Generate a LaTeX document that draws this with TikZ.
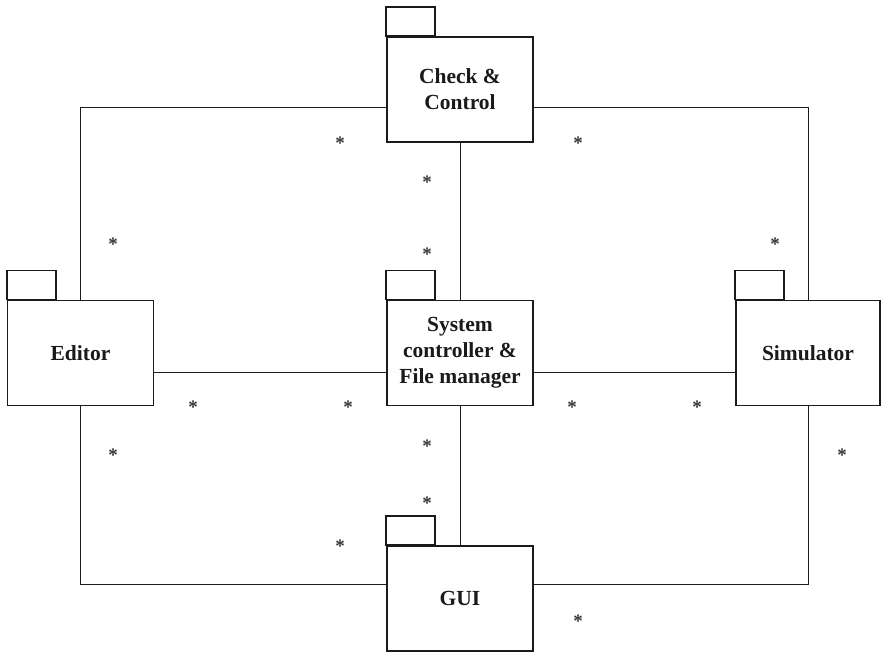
\documentclass[tikz,border=0pt]{standalone}
\usepackage{fontspec}
\setmainfont{Liberation Serif}
\usetikzlibrary{calc, positioning}
\definecolor{cbk}{HTML}{1A1A1A}
\definecolor{cstar}{HTML}{333333}

\begin{document}
\begin{tikzpicture}[x=1pt, y=-1pt]
    \useasboundingbox (0,0) rectangle (881,652);
    \begin{scope}[every node/.style={rectangle, draw=cbk, line width=1.6pt, fill=white, minimum width=146pt, minimum height=105pt, align=center, inner sep=0pt, font=\fontsize{21.5}{26}\selectfont\bfseries\color{cbk}}]
        \node (chk) at (460, 89.5) {Check \&\\Control};
        \node (edt) at (80.5, 353) {Editor};
        \node (sys) at (460, 353) {System\\controller \&\\File manager};
        \node (sim) at (808, 353) [minimum width=144pt] {Simulator};
        \node (gui) at (460, 598.5) {GUI};
    \end{scope}
    % package tabs
    \foreach \p in {chk, edt, sys, sim, gui}
        \draw[cbk, line width=1.6pt] (\p.north west) rectangle ++(49, -29);
    % associations
    \begin{scope}[cbk, line width=1pt]
        \draw ([yshift=-18.5pt]chk.west) -| (edt.north);
        \draw ([yshift=-18.5pt]chk.east) -| (sim.north);
        \draw (chk.south) -- (sys.north);
        \draw ([yshift=-19pt]edt.east) -- ([yshift=-19pt]sys.west);
        \draw ([yshift=-19pt]sys.east) -- ([yshift=-19pt]sim.west);
        \draw (sys.south) -- (gui.north);
        \draw (edt.south) |- ([yshift=14.5pt]gui.west);
        \draw (sim.south) |- ([yshift=14.5pt]gui.east);
    \end{scope}
    % multiplicities
    \foreach \x/\y [count=\i] in {340/142, 578/142, 427/181, 427/253, 113/243, 775/243,
            193/405, 348/405, 572/405, 697/405, 113/453, 842/453,
            427/444, 427/501, 340/544, 578/619}
        \node (m\i) [anchor=base, yshift=-8pt, inner sep=0pt, font=\fontsize{19}{20}\selectfont\bfseries\color{cstar}] at (\x, \y) {*};
\end{tikzpicture}
\end{document}
